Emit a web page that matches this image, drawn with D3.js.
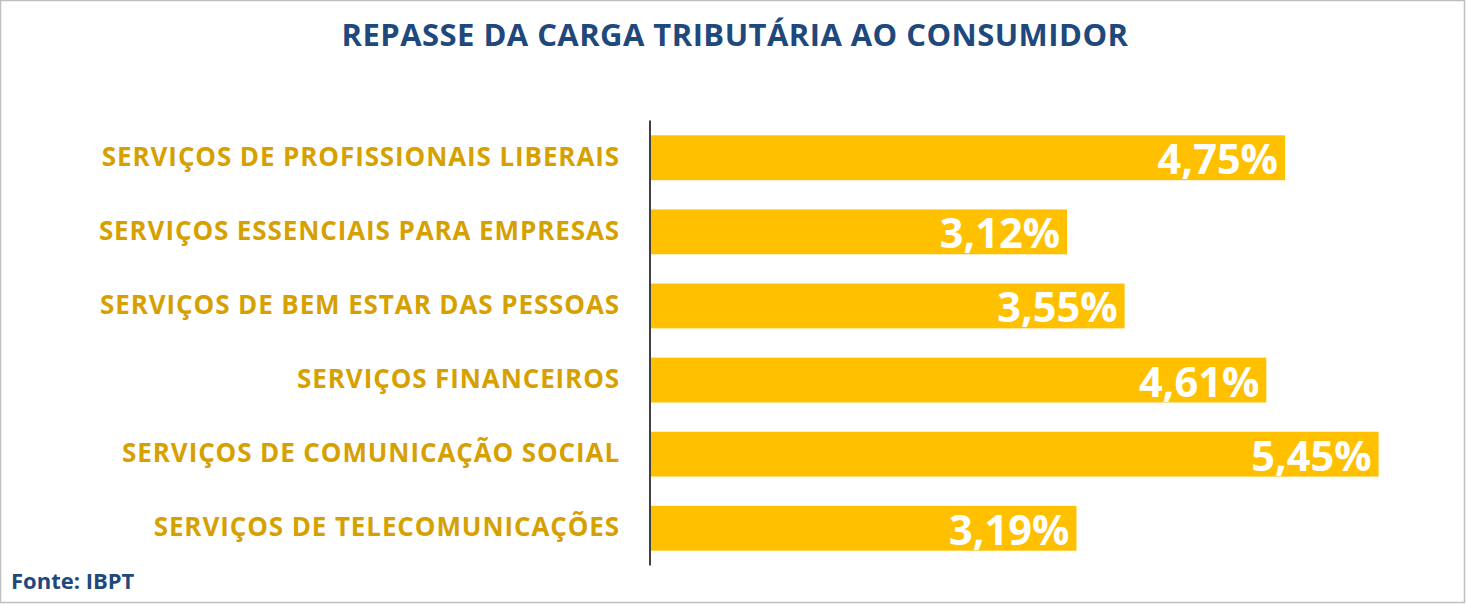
<!DOCTYPE html>
<html><head><meta charset="utf-8">
<script src="https://cdnjs.cloudflare.com/ajax/libs/d3/7.8.5/d3.min.js"></script>
<style>
html,body{margin:0;padding:0;background:#fff;}
svg{display:block;}
</style></head>
<body>
<svg id="chart" width="1467" height="604"></svg>
<script>
const title = "REPASSE DA CARGA TRIBUTÁRIA AO CONSUMIDOR";
const source = "Fonte: IBPT";
const categories = [
  "SERVIÇOS DE PROFISSIONAIS LIBERAIS",
  "SERVIÇOS ESSENCIAIS PARA EMPRESAS",
  "SERVIÇOS DE BEM ESTAR DAS PESSOAS",
  "SERVIÇOS FINANCEIROS",
  "SERVIÇOS DE COMUNICAÇÃO SOCIAL",
  "SERVIÇOS DE TELECOMUNICAÇÕES"
];
const values = [4.75, 3.12, 3.55, 4.61, 5.45, 3.19];
const valueLabels = ["4,75%", "3,12%", "3,55%", "4,61%", "5,45%", "3,19%"];

const W = 1467, H = 604;
const svg = d3.select("#chart");
const font = "'Open Sans', Lato, sans-serif";

svg.append("rect").attr("x", 0.5).attr("y", 0.5).attr("width", W - 3).attr("height", H - 2)
  .attr("fill", "#fff").attr("stroke", "#BFBFBF").attr("stroke-width", 1.5);

const x = d3.scaleLinear().domain([0, 5.45]).range([650, 1378.6]);
const y = d3.scaleBand().domain(categories).range([120.5, 565.5]).paddingInner(0.395).paddingOuter(0.2);

svg.selectAll("rect.bar").data(values).join("rect").attr("class", "bar")
  .attr("x", x(0)).attr("y", (d, i) => y(categories[i]))
  .attr("width", d => x(d) - x(0)).attr("height", y.bandwidth())
  .attr("fill", "#FFC000");

svg.selectAll("text.val").data(values).join("text").attr("class", "val")
  .attr("x", d => x(d) - 7).attr("y", (d, i) => y(categories[i]) + y.bandwidth() / 2 + 16.5)
  .attr("text-anchor", "end")
  .attr("font-family", font).attr("font-weight", 700).attr("font-size", 41.5)
  .attr("fill", "#fff").text((d, i) => valueLabels[i]);

const axis = svg.append("g").attr("transform", `translate(${x(0)},0)`)
  .call(d3.axisLeft(y).tickSize(0).tickPadding(30));
axis.select(".domain").attr("stroke", "#404040").attr("stroke-width", 2).attr("d", "M0,120.5V565.5");
axis.selectAll("text").attr("font-family", font).attr("font-weight", 700).attr("font-size", 26)
  .attr("letter-spacing", 0.9)
  .attr("fill", "#D6A100").attr("dy", "0.3em");

svg.append("text").attr("x", 735).attr("y", 45.5).attr("text-anchor", "middle")
  .attr("font-family", font).attr("font-weight", 700).attr("font-size", 31)
  .attr("letter-spacing", 0.45)
  .attr("fill", "#1F497D").text(title);

svg.append("text").attr("x", 11).attr("y", 589)
  .attr("font-family", font).attr("font-weight", 700).attr("font-size", 22)
  .attr("fill", "#1F497D").text(source);
</script>
</body></html>
